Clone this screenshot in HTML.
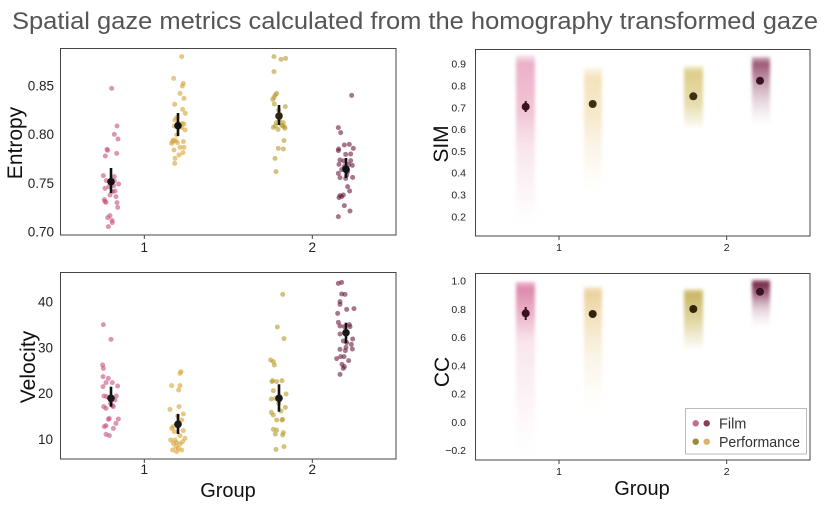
<!DOCTYPE html>
<html><head><meta charset="utf-8"><style>
html,body{margin:0;padding:0;background:#fff;}
svg{display:block;font-family:"Liberation Sans",Arial,sans-serif;}
</style></head><body>
<svg width="827" height="507" viewBox="0 0 827 507" xmlns="http://www.w3.org/2000/svg">
<defs>
<filter id="bl" x="-50%" y="-20%" width="200%" height="140%"><feGaussianBlur stdDeviation="1.6"/></filter>
<linearGradient id="sf1" x1="0" y1="0" x2="0" y2="1">
<stop offset="0" stop-color="#e28fb0" stop-opacity="0.2"/><stop offset="0.05" stop-color="#e28fb0" stop-opacity="0.7"/><stop offset="0.35" stop-color="#e8a0bc" stop-opacity="0.6"/><stop offset="0.55" stop-color="#eeb5cb" stop-opacity="0.35"/><stop offset="0.8" stop-color="#f2c6d6" stop-opacity="0.2"/><stop offset="1" stop-color="#f2c6d6" stop-opacity="0"/></linearGradient>
<linearGradient id="sp1" x1="0" y1="0" x2="0" y2="1">
<stop offset="0" stop-color="#ecd08f" stop-opacity="0.2"/><stop offset="0.08" stop-color="#ecd08f" stop-opacity="0.6"/><stop offset="0.4" stop-color="#efd49c" stop-opacity="0.5"/><stop offset="0.65" stop-color="#f3e0b8" stop-opacity="0.3"/><stop offset="1" stop-color="#f5e6c6" stop-opacity="0"/></linearGradient>
<linearGradient id="sp2" x1="0" y1="0" x2="0" y2="1">
<stop offset="0" stop-color="#d6c36e" stop-opacity="0.3"/><stop offset="0.1" stop-color="#d2bd62" stop-opacity="0.75"/><stop offset="0.6" stop-color="#d8c67a" stop-opacity="0.6"/><stop offset="0.85" stop-color="#e4d8a0" stop-opacity="0.35"/><stop offset="1" stop-color="#e8dcae" stop-opacity="0"/></linearGradient>
<linearGradient id="sf2" x1="0" y1="0" x2="0" y2="1">
<stop offset="0" stop-color="#8e3f63" stop-opacity="0.4"/><stop offset="0.1" stop-color="#8a3a5e" stop-opacity="0.85"/><stop offset="0.35" stop-color="#9c5676" stop-opacity="0.6"/><stop offset="0.65" stop-color="#c39aae" stop-opacity="0.4"/><stop offset="1" stop-color="#d8bcc9" stop-opacity="0"/></linearGradient>
<linearGradient id="cf1" x1="0" y1="0" x2="0" y2="1">
<stop offset="0" stop-color="#d8759d" stop-opacity="0.5"/><stop offset="0.04" stop-color="#d8759d" stop-opacity="0.85"/><stop offset="0.2" stop-color="#e290b0" stop-opacity="0.65"/><stop offset="0.35" stop-color="#eeb5cb" stop-opacity="0.35"/><stop offset="0.7" stop-color="#f2c8d8" stop-opacity="0.2"/><stop offset="1" stop-color="#f4d4e0" stop-opacity="0"/></linearGradient>
<linearGradient id="cp1" x1="0" y1="0" x2="0" y2="1">
<stop offset="0" stop-color="#e6c27e" stop-opacity="0.4"/><stop offset="0.05" stop-color="#e6c27e" stop-opacity="0.75"/><stop offset="0.35" stop-color="#ecd39c" stop-opacity="0.5"/><stop offset="0.6" stop-color="#f2e2bc" stop-opacity="0.3"/><stop offset="1" stop-color="#f5eacc" stop-opacity="0"/></linearGradient>
<linearGradient id="cp2" x1="0" y1="0" x2="0" y2="1">
<stop offset="0" stop-color="#c4b050" stop-opacity="0.4"/><stop offset="0.08" stop-color="#c0aa48" stop-opacity="0.85"/><stop offset="0.55" stop-color="#d0c070" stop-opacity="0.6"/><stop offset="0.85" stop-color="#e0d6a0" stop-opacity="0.3"/><stop offset="1" stop-color="#e8e0b8" stop-opacity="0"/></linearGradient>
<linearGradient id="cf2" x1="0" y1="0" x2="0" y2="1">
<stop offset="0" stop-color="#6e1c40" stop-opacity="0.6"/><stop offset="0.08" stop-color="#6e1c40" stop-opacity="0.95"/><stop offset="0.3" stop-color="#8a3c5e" stop-opacity="0.75"/><stop offset="0.6" stop-color="#b88ca2" stop-opacity="0.4"/><stop offset="1" stop-color="#dcc4d0" stop-opacity="0"/></linearGradient>
</defs>

<!-- Title -->
<text x="12" y="29" font-size="24" fill="#555" textLength="806" lengthAdjust="spacingAndGlyphs">Spatial gaze metrics calculated from the homography transformed gaze</text>

<!-- ===== Top-left: Entropy ===== -->
<g>
<g transform="translate(0,40) scale(0.33333)">
<g fill="#c4507f" fill-opacity="0.6">
<circle cx="335" cy="145" r="7.5"/><circle cx="351" cy="258" r="7.5"/><circle cx="343" cy="283" r="7.5"/><circle cx="354" cy="297" r="7.5"/><circle cx="350" cy="340" r="7.5"/><circle cx="321" cy="328" r="7.5"/><circle cx="323" cy="331" r="7.5"/><circle cx="316" cy="348" r="7.5"/><circle cx="310" cy="407" r="7.5"/><circle cx="319" cy="422" r="7.5"/><circle cx="343" cy="410" r="7.5"/><circle cx="327" cy="440" r="7.5"/><circle cx="341" cy="437" r="7.5"/><circle cx="356" cy="432" r="7.5"/><circle cx="345" cy="453" r="7.5"/><circle cx="313" cy="479" r="7.5"/><circle cx="318" cy="487" r="7.5"/><circle cx="351" cy="488" r="7.5"/><circle cx="315" cy="484" r="7.5"/><circle cx="353" cy="502" r="7.5"/><circle cx="330" cy="527" r="7.5"/><circle cx="323" cy="533" r="7.5"/><circle cx="336" cy="541" r="7.5"/><circle cx="325" cy="560" r="7.5"/><circle cx="337" cy="548" r="7.5"/><circle cx="343" cy="423" r="7.5"/><circle cx="338" cy="455" r="7.5"/><circle cx="330" cy="465" r="7.5"/><circle cx="315" cy="445" r="7.5"/><circle cx="348" cy="470" r="7.5"/>
</g>
<g fill="#d9a030" fill-opacity="0.6">
<circle cx="545" cy="50" r="7.5"/><circle cx="521" cy="115" r="7.5"/><circle cx="550" cy="130" r="7.5"/><circle cx="547" cy="138" r="7.5"/><circle cx="540" cy="160" r="7.5"/><circle cx="552" cy="175" r="7.5"/><circle cx="524" cy="193" r="7.5"/><circle cx="548" cy="208" r="7.5"/><circle cx="556" cy="220" r="7.5"/><circle cx="530" cy="233" r="7.5"/><circle cx="525" cy="240" r="7.5"/><circle cx="552" cy="252" r="7.5"/><circle cx="523" cy="258" r="7.5"/><circle cx="545" cy="262" r="7.5"/><circle cx="520" cy="300" r="7.5"/><circle cx="518" cy="305" r="7.5"/><circle cx="527" cy="302" r="7.5"/><circle cx="532" cy="308" r="7.5"/><circle cx="550" cy="305" r="7.5"/><circle cx="522" cy="330" r="7.5"/><circle cx="540" cy="322" r="7.5"/><circle cx="552" cy="322" r="7.5"/><circle cx="525" cy="355" r="7.5"/><circle cx="537" cy="345" r="7.5"/><circle cx="549" cy="338" r="7.5"/><circle cx="524" cy="370" r="7.5"/><circle cx="546" cy="250" r="7.5"/><circle cx="555" cy="270" r="7.5"/><circle cx="530" cy="285" r="7.5"/><circle cx="515" cy="310" r="7.5"/>
</g>
<g fill="#b89a2a" fill-opacity="0.6">
<circle cx="822" cy="50" r="7.5"/><circle cx="843" cy="58" r="7.5"/><circle cx="857" cy="55" r="7.5"/><circle cx="822" cy="95" r="7.5"/><circle cx="826" cy="165" r="7.5"/><circle cx="822" cy="172" r="7.5"/><circle cx="830" cy="160" r="7.5"/><circle cx="818" cy="178" r="7.5"/><circle cx="823" cy="192" r="7.5"/><circle cx="826" cy="258" r="7.5"/><circle cx="834" cy="268" r="7.5"/><circle cx="856" cy="200" r="7.5"/><circle cx="850" cy="248" r="7.5"/><circle cx="853" cy="260" r="7.5"/><circle cx="855" cy="265" r="7.5"/><circle cx="838" cy="240" r="7.5"/><circle cx="845" cy="255" r="7.5"/><circle cx="829" cy="248" r="7.5"/><circle cx="852" cy="302" r="7.5"/><circle cx="835" cy="325" r="7.5"/><circle cx="850" cy="327" r="7.5"/><circle cx="825" cy="355" r="7.5"/><circle cx="828" cy="395" r="7.5"/><circle cx="820" cy="262" r="7.5"/><circle cx="841" cy="224" r="7.5"/><circle cx="836" cy="210" r="7.5"/><circle cx="848" cy="258" r="7.5"/>
</g>
<g fill="#6a1a40" fill-opacity="0.6">
<circle cx="1055" cy="166" r="7.5"/><circle cx="1015" cy="263" r="7.5"/><circle cx="1022" cy="278" r="7.5"/><circle cx="1016" cy="327" r="7.5"/><circle cx="1033" cy="315" r="7.5"/><circle cx="1048" cy="313" r="7.5"/><circle cx="1060" cy="325" r="7.5"/><circle cx="1015" cy="332" r="7.5"/><circle cx="1052" cy="342" r="7.5"/><circle cx="1037" cy="343" r="7.5"/><circle cx="1020" cy="360" r="7.5"/><circle cx="1052" cy="362" r="7.5"/><circle cx="1031" cy="363" r="7.5"/><circle cx="1017" cy="373" r="7.5"/><circle cx="1046" cy="373" r="7.5"/><circle cx="1057" cy="376" r="7.5"/><circle cx="1033" cy="380" r="7.5"/><circle cx="1025" cy="389" r="7.5"/><circle cx="1043" cy="395" r="7.5"/><circle cx="1015" cy="400" r="7.5"/><circle cx="1040" cy="405" r="7.5"/><circle cx="1058" cy="412" r="7.5"/><circle cx="1020" cy="413" r="7.5"/><circle cx="1037" cy="415" r="7.5"/><circle cx="1043" cy="440" r="7.5"/><circle cx="1049" cy="453" r="7.5"/><circle cx="1020" cy="467" r="7.5"/><circle cx="1017" cy="473" r="7.5"/><circle cx="1030" cy="465" r="7.5"/><circle cx="1033" cy="497" r="7.5"/><circle cx="1050" cy="513" r="7.5"/><circle cx="1015" cy="530" r="7.5"/><circle cx="1025" cy="470" r="7.5"/>
</g>
</g>
<g stroke="#111" stroke-width="2.6">
<line x1="111" y1="168" x2="111" y2="193"/><line x1="178" y1="113" x2="178" y2="136"/><line x1="279" y1="105" x2="279" y2="125"/><line x1="346" y1="158" x2="346" y2="178"/>
</g>
<g fill="#111"><circle cx="111" cy="181.7" r="3.8"/><circle cx="178" cy="125.7" r="3.8"/><circle cx="279" cy="116" r="3.8" fill="#2a2515"/><circle cx="346" cy="169.3" r="3.8"/></g>
<rect x="60.5" y="48.5" width="335.5" height="186.5" fill="none" stroke="#444" stroke-width="1"/>
<g stroke="#444" stroke-width="1"><line x1="144.3" y1="235" x2="144.3" y2="239"/><line x1="312.3" y1="235" x2="312.3" y2="239"/></g>
<g font-size="13.5" fill="#222" text-anchor="end">
<text x="54" y="90.5">0.85</text><text x="54" y="139.2">0.80</text><text x="54" y="188">0.75</text><text x="54" y="236.5">0.70</text>
</g>
<g font-size="13.5" fill="#222" text-anchor="middle"><text x="144.3" y="252">1</text><text x="312.3" y="252">2</text></g>
<text transform="translate(22,143) rotate(-90)" font-size="21" fill="#111" text-anchor="middle">Entropy</text>
</g>

<!-- ===== Top-right: SIM ===== -->
<g>
<g filter="url(#bl)">
<rect x="516" y="55" width="19" height="167" fill="url(#sf1)"/>
<rect x="584" y="68" width="18" height="125" fill="url(#sp1)"/>
<rect x="684" y="66" width="19" height="64" fill="url(#sp2)"/>
<rect x="752" y="57" width="18" height="68" fill="url(#sf2)"/>
</g>
<g fill="#3a1320"><circle cx="525.7" cy="106.7" r="4"/><circle cx="760" cy="80.7" r="4"/></g>
<g fill="#3a3012"><circle cx="592.7" cy="104" r="4"/><circle cx="693.3" cy="96.3" r="4"/></g>
<line x1="525.7" y1="101" x2="525.7" y2="112" stroke="#3a1320" stroke-width="2"/>
<rect x="475.5" y="49.5" width="334.5" height="186.5" fill="none" stroke="#444" stroke-width="1"/>
<g stroke="#444" stroke-width="1"><line x1="559" y1="236" x2="559" y2="240"/><line x1="726.7" y1="236" x2="726.7" y2="240"/></g>
<g font-size="10.5" fill="#222" text-anchor="end">
<text x="466" y="67.7">0.9</text><text x="466" y="89.5">0.8</text><text x="466" y="111.3">0.7</text><text x="466" y="133.1">0.6</text><text x="466" y="154.9">0.5</text><text x="466" y="176.7">0.4</text><text x="466" y="198.6">0.3</text><text x="466" y="220.4">0.2</text>
</g>
<g font-size="10.5" fill="#222" text-anchor="middle"><text x="559" y="251">1</text><text x="726.7" y="251">2</text></g>
<text transform="translate(448,144) rotate(-90)" font-size="21" fill="#111" text-anchor="middle">SIM</text>
</g>

<!-- ===== Bottom-left: Velocity ===== -->
<g>
<g transform="translate(0,260) scale(0.33333)">
<g fill="#c4507f" fill-opacity="0.6">
<circle cx="310" cy="194" r="7.5"/><circle cx="333" cy="238" r="7.5"/><circle cx="308" cy="315" r="7.5"/><circle cx="310" cy="325" r="7.5"/><circle cx="309" cy="350" r="7.5"/><circle cx="325" cy="355" r="7.5"/><circle cx="318" cy="368" r="7.5"/><circle cx="337" cy="368" r="7.5"/><circle cx="353" cy="378" r="7.5"/><circle cx="309" cy="380" r="7.5"/><circle cx="312" cy="408" r="7.5"/><circle cx="320" cy="410" r="7.5"/><circle cx="349" cy="408" r="7.5"/><circle cx="335" cy="412" r="7.5"/><circle cx="311" cy="440" r="7.5"/><circle cx="337" cy="437" r="7.5"/><circle cx="318" cy="445" r="7.5"/><circle cx="340" cy="440" r="7.5"/><circle cx="328" cy="475" r="7.5"/><circle cx="355" cy="477" r="7.5"/><circle cx="325" cy="478" r="7.5"/><circle cx="348" cy="490" r="7.5"/><circle cx="318" cy="497" r="7.5"/><circle cx="313" cy="500" r="7.5"/><circle cx="340" cy="505" r="7.5"/><circle cx="318" cy="523" r="7.5"/><circle cx="328" cy="527" r="7.5"/><circle cx="332" cy="430" r="7.5"/><circle cx="345" cy="420" r="7.5"/>
</g>
<g fill="#d9a030" fill-opacity="0.6">
<circle cx="543" cy="335" r="7.5"/><circle cx="540" cy="340" r="7.5"/><circle cx="515" cy="377" r="7.5"/><circle cx="540" cy="377" r="7.5"/><circle cx="536" cy="390" r="7.5"/><circle cx="510" cy="448" r="7.5"/><circle cx="537" cy="440" r="7.5"/><circle cx="550" cy="462" r="7.5"/><circle cx="533" cy="468" r="7.5"/><circle cx="545" cy="480" r="7.5"/><circle cx="520" cy="500" r="7.5"/><circle cx="515" cy="505" r="7.5"/><circle cx="525" cy="540" r="7.5"/><circle cx="548" cy="545" r="7.5"/><circle cx="555" cy="535" r="7.5"/><circle cx="530" cy="548" r="7.5"/><circle cx="520" cy="550" r="7.5"/><circle cx="540" cy="552" r="7.5"/><circle cx="528" cy="560" r="7.5"/><circle cx="535" cy="565" r="7.5"/><circle cx="518" cy="570" r="7.5"/><circle cx="545" cy="570" r="7.5"/><circle cx="530" cy="575" r="7.5"/><circle cx="550" cy="512" r="7.5"/><circle cx="512" cy="540" r="7.5"/><circle cx="540" cy="527" r="7.5"/><circle cx="523" cy="515" r="7.5"/><circle cx="538" cy="488" r="7.5"/>
</g>
<g fill="#b89a2a" fill-opacity="0.6">
<circle cx="848" cy="103" r="7.5"/><circle cx="832" cy="201" r="7.5"/><circle cx="852" cy="236" r="7.5"/><circle cx="812" cy="300" r="7.5"/><circle cx="820" cy="305" r="7.5"/><circle cx="823" cy="315" r="7.5"/><circle cx="818" cy="362" r="7.5"/><circle cx="816" cy="365" r="7.5"/><circle cx="830" cy="365" r="7.5"/><circle cx="846" cy="362" r="7.5"/><circle cx="820" cy="392" r="7.5"/><circle cx="858" cy="402" r="7.5"/><circle cx="814" cy="417" r="7.5"/><circle cx="827" cy="415" r="7.5"/><circle cx="840" cy="410" r="7.5"/><circle cx="836" cy="430" r="7.5"/><circle cx="856" cy="442" r="7.5"/><circle cx="814" cy="457" r="7.5"/><circle cx="820" cy="465" r="7.5"/><circle cx="843" cy="453" r="7.5"/><circle cx="848" cy="478" r="7.5"/><circle cx="830" cy="480" r="7.5"/><circle cx="846" cy="480" r="7.5"/><circle cx="820" cy="508" r="7.5"/><circle cx="830" cy="510" r="7.5"/><circle cx="850" cy="518" r="7.5"/><circle cx="826" cy="522" r="7.5"/><circle cx="848" cy="525" r="7.5"/><circle cx="852" cy="560" r="7.5"/><circle cx="828" cy="568" r="7.5"/>
</g>
<g fill="#6a1a40" fill-opacity="0.6">
<circle cx="1015" cy="70" r="7.5"/><circle cx="1025" cy="67" r="7.5"/><circle cx="1025" cy="102" r="7.5"/><circle cx="1035" cy="103" r="7.5"/><circle cx="1020" cy="125" r="7.5"/><circle cx="1020" cy="133" r="7.5"/><circle cx="1040" cy="148" r="7.5"/><circle cx="1013" cy="160" r="7.5"/><circle cx="1062" cy="146" r="7.5"/><circle cx="1015" cy="187" r="7.5"/><circle cx="1048" cy="194" r="7.5"/><circle cx="1020" cy="198" r="7.5"/><circle cx="1033" cy="200" r="7.5"/><circle cx="1050" cy="200" r="7.5"/><circle cx="1020" cy="222" r="7.5"/><circle cx="1058" cy="237" r="7.5"/><circle cx="1030" cy="243" r="7.5"/><circle cx="1040" cy="248" r="7.5"/><circle cx="1038" cy="262" r="7.5"/><circle cx="1054" cy="253" r="7.5"/><circle cx="1020" cy="268" r="7.5"/><circle cx="1036" cy="272" r="7.5"/><circle cx="1057" cy="267" r="7.5"/><circle cx="1010" cy="296" r="7.5"/><circle cx="1022" cy="290" r="7.5"/><circle cx="1032" cy="290" r="7.5"/><circle cx="1046" cy="302" r="7.5"/><circle cx="1026" cy="313" r="7.5"/><circle cx="1033" cy="320" r="7.5"/><circle cx="1030" cy="325" r="7.5"/><circle cx="1020" cy="343" r="7.5"/>
</g>
</g>
<g stroke="#111" stroke-width="2.6">
<line x1="111" y1="386.7" x2="111" y2="406.7"/><line x1="178" y1="414" x2="178" y2="434"/><line x1="279" y1="384.3" x2="279" y2="411.7"/><line x1="346" y1="322.7" x2="346" y2="343.3"/>
</g>
<g fill="#1a1a1a"><circle cx="111" cy="398.3" r="3.8"/><circle cx="178" cy="424.3" r="3.8"/><circle cx="279" cy="398.3" r="3.8"/><circle cx="346" cy="332.7" r="3.8"/></g>
<rect x="60.5" y="272.5" width="335.5" height="186.5" fill="none" stroke="#444" stroke-width="1"/>
<g stroke="#444" stroke-width="1"><line x1="144.3" y1="459" x2="144.3" y2="463"/><line x1="312.3" y1="459" x2="312.3" y2="463"/></g>
<g font-size="13.5" fill="#222" text-anchor="end">
<text x="53" y="306.5">40</text><text x="53" y="352.3">30</text><text x="53" y="398">20</text><text x="53" y="443.8">10</text>
</g>
<g font-size="13.5" fill="#222" text-anchor="middle"><text x="144.3" y="474">1</text><text x="312.3" y="474">2</text></g>
<text transform="translate(35,367) rotate(-90)" font-size="21" fill="#111" text-anchor="middle">Velocity</text>
<text x="228" y="497" font-size="20" fill="#111" text-anchor="middle">Group</text>
</g>

<!-- ===== Bottom-right: CC ===== -->
<g>
<g filter="url(#bl)">
<rect x="516" y="282" width="19" height="172" fill="url(#cf1)"/>
<rect x="584" y="287" width="18" height="125" fill="url(#cp1)"/>
<rect x="684" y="289" width="19" height="62" fill="url(#cp2)"/>
<rect x="752" y="280" width="18" height="48" fill="url(#cf2)"/>
</g>
<g fill="#3a1320"><circle cx="525.7" cy="313.3" r="4"/><circle cx="760" cy="291.7" r="4"/></g>
<g fill="#2e2410"><circle cx="592.7" cy="314" r="4"/><circle cx="693.3" cy="309" r="4"/></g>
<line x1="525.7" y1="307" x2="525.7" y2="320" stroke="#3a1320" stroke-width="2"/>
<rect x="475.5" y="273.5" width="334.5" height="186.5" fill="none" stroke="#444" stroke-width="1"/>
<g stroke="#444" stroke-width="1"><line x1="559" y1="460" x2="559" y2="464"/><line x1="726.7" y1="460" x2="726.7" y2="464"/></g>
<g font-size="10.5" fill="#222" text-anchor="end">
<text x="466" y="284.7">1.0</text><text x="466" y="312.9">0.8</text><text x="466" y="341.1">0.6</text><text x="466" y="369.4">0.4</text><text x="466" y="397.6">0.2</text><text x="466" y="425.8">0.0</text><text x="466" y="454">−0.2</text>
</g>
<g font-size="10.5" fill="#222" text-anchor="middle"><text x="559" y="475">1</text><text x="726.7" y="475">2</text></g>
<text transform="translate(449,372) rotate(-90)" font-size="21" fill="#111" text-anchor="middle">CC</text>
<text x="642" y="495" font-size="20" fill="#111" text-anchor="middle">Group</text>
<!-- legend -->
<rect x="685.5" y="408.5" width="121" height="45.5" fill="#fff" fill-opacity="0.85" stroke="#bbb" stroke-width="1"/>
<circle cx="695.7" cy="423.3" r="3.2" fill="#c96a92"/><circle cx="706.7" cy="423.3" r="3.2" fill="#8c3d5e"/>
<circle cx="695.7" cy="441.7" r="3.2" fill="#9c8a34"/><circle cx="706.7" cy="441.7" r="3.2" fill="#dab46e"/>
<text x="719" y="428.5" font-size="14.5" fill="#333">Film</text>
<text x="719" y="447" font-size="14.5" fill="#333" textLength="81" lengthAdjust="spacingAndGlyphs">Performance</text>
</g>
</svg>
</body></html>
